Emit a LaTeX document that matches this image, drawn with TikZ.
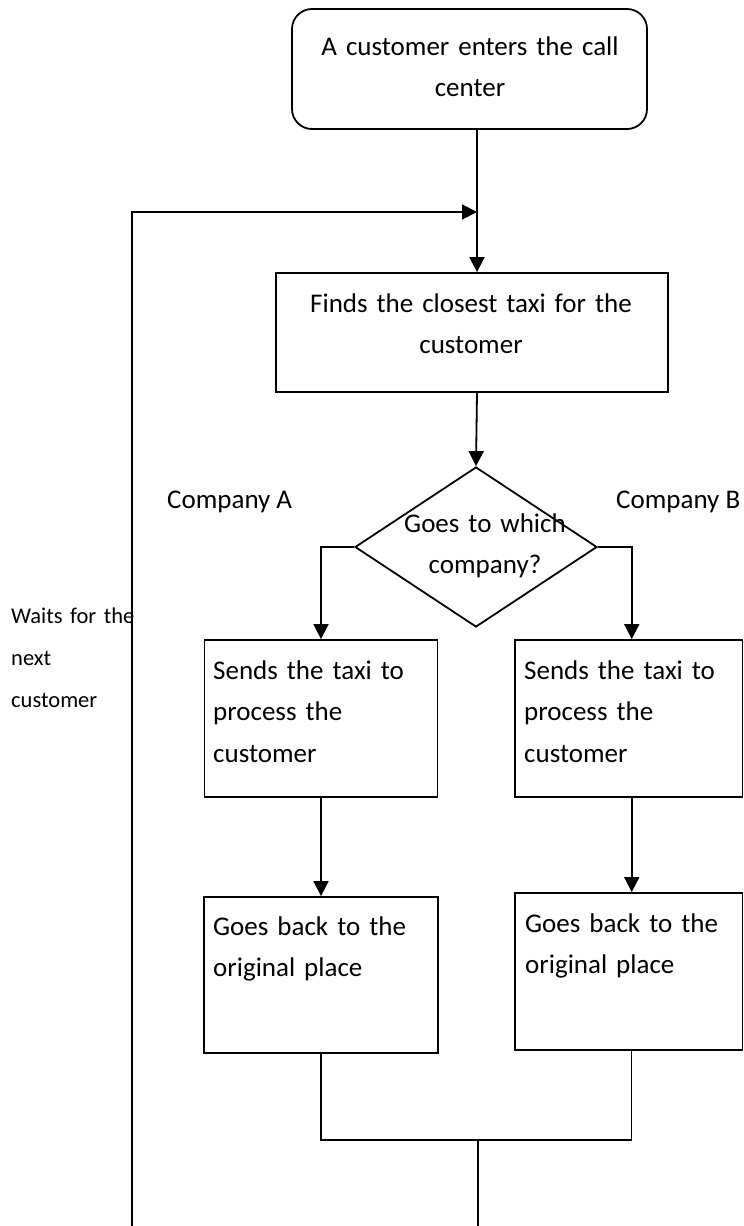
\documentclass[tikz,border=0pt]{standalone}
\usepackage{fontspec}
\setmainfont{Carlito}
\usetikzlibrary{arrows.meta,positioning,shapes.geometric}

\begin{document}
\begin{tikzpicture}[
  x=1pt,y=-1pt,
  box/.style={draw,line width=1.8pt,inner sep=0pt},
  txt/.style={font=\fontsize{27}{41.5}\selectfont,inner sep=0pt,anchor=base},
  side/.style={font=\fontsize{22.5}{42}\selectfont,inner sep=0pt,anchor=base west,
               align=left,text width=160pt},
  arr/.style={-{Triangle[length=15pt,width=15pt]},line width=1.8pt},
  link/.style={line width=1.4pt}
]
\useasboundingbox (0,0) rectangle (744,1226);
% boxes
\node[box,rounded corners=20pt,minimum width=355pt,minimum height=120pt] (start) at (469.5,69) {};
\node[box,minimum width=392pt,minimum height=119pt] (find) at (472,332.5) {};
\node[box,diamond,minimum width=242pt,minimum height=160pt] (decide) at (476,547) {};
\node[box,minimum width=233pt,minimum height=157pt] (sendA) at (321,718.5) {};
\node[box,minimum width=227.5pt,minimum height=157pt] (sendB) at (628.75,718.5) {};
\node[box,minimum width=234pt,minimum height=156pt] (backA) at (321,975) {};
\node[box,minimum width=227.5pt,minimum height=157pt] (backB) at (628.75,971.5) {};
% texts
\node[txt,text width=360pt,align=center] (start-txt) at (470,55) {A customer enters the call\\center};
\node[txt,text width=380pt,align=center] (find-txt) at (471,312) {Finds the closest taxi for the\\customer};
\node[txt,text width=200pt,align=center] (decide-txt) at (485,532) {Goes to which\\company?};
\node[txt,anchor=base west] (compA) at (167,508) {Company A};
\node[txt,anchor=base west] (compB) at (616,508) {Company B};
\node[side] (wait-txt) at (11,623) {\makebox[128pt][s]{Waits for the}\\next\\customer};
\node[txt,anchor=base west,text width=220pt,align=left] (sendA-txt) at (213,679) {Sends the taxi to\\process the\\customer};
\node[txt,anchor=base west,text width=220pt,align=left] (sendB-txt) at (524,679) {Sends the taxi to\\process the\\customer};
\node[txt,anchor=base west,text width=220pt,align=left] (backA-txt) at (213,935) {Goes back to the\\original place};
\node[txt,anchor=base west,text width=220pt,align=left] (backB-txt) at (525,932) {Goes back to the\\original place};
% connectors
\coordinate (merge) at (477,212);
\coordinate (merge-low) at (478,1140);
\coordinate (exit) at (478,1226);
\coordinate (loop-start) at (132,1226);
\draw[arr] (merge |- start.south) -- (merge |- find.north);
\draw[arr] (loop-start) |- (merge);
\draw[arr] (merge |- find.south) -- (decide.north);
\draw[arr] (decide.west) -| (sendA.north);
\draw[arr] (decide.east) -| ([xshift=3pt]sendB.north);
\draw[arr] (sendA) -- (backA);
\draw[arr] ([xshift=3pt]sendB.south) -- ([xshift=3pt]backB.north);
\draw[link] (backA.south) |- (merge-low) -| ([xshift=3pt]backB.south);
\draw[link] (merge-low) -- (exit);
\end{tikzpicture}
\end{document}
